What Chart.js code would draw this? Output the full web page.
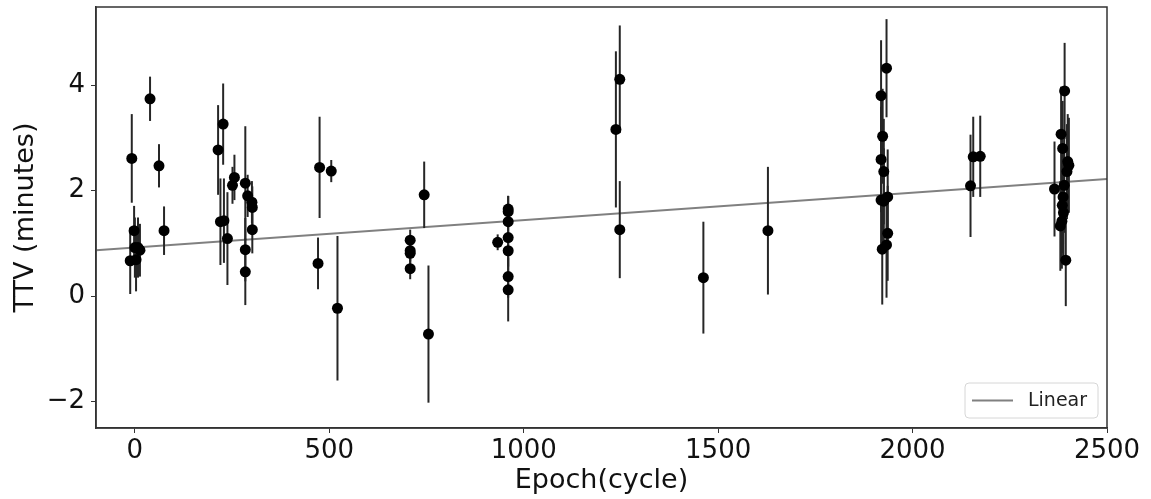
<!DOCTYPE html>
<html>
<head>
<meta charset="utf-8">
<title>TTV vs Epoch</title>
<script src="https://cdn.jsdelivr.net/npm/chart.js@4.4.0/dist/chart.umd.min.js"></script>
<style>
  html, body { margin: 0; padding: 0; background: #fff; }
  #wrap { width: 1151px; height: 499px; position: relative; }
</style>
</head>
<body>
<div id="wrap"><canvas id="ttvChart"></canvas></div>
<script>
// transit timing data
const EPOCH = [
  -12, -8, -2, 0, 3, 8, 13, 39, 62, 75,
  214, 220, 227, 229, 238, 251, 256, 284, 284, 284, 290, 301, 302, 302,
  471, 475, 505, 521,
  708, 708, 708, 708, 744, 755,
  933, 960, 960, 960, 960, 960, 960, 960,
  1237, 1247, 1247, 1462, 1628,
  1919, 1933, 1923, 1919, 1926, 1919, 1936, 1926, 1936, 1933, 1922,
  2149, 2156, 2174,
  2365, 2391, 2382, 2386, 2399, 2402, 2397, 2390, 2387, 2385, 2388, 2384, 2380, 2394
];
const TTV = [
  0.67, 2.61, 1.24, 0.92, 0.69, 0.92, 0.87, 3.74, 2.47, 1.24,
  2.77, 1.41, 3.26, 1.43, 1.09, 2.10, 2.25, 2.14, 0.88, 0.46, 1.90, 1.78, 1.68, 1.26,
  0.62, 2.44, 2.37, -0.23,
  1.06, 0.86, 0.81, 0.52, 1.92, -0.72,
  1.02, 1.65, 1.60, 1.41, 1.11, 0.86, 0.37, 0.12,
  3.16, 4.11, 1.26, 0.35, 1.24,
  3.80, 4.32, 3.03, 2.59, 2.36, 1.82, 1.88, 1.80, 1.19, 0.97, 0.89,
  2.09, 2.64, 2.65,
  2.03, 3.89, 3.07, 2.80, 2.55, 2.48, 2.36, 2.10, 1.88, 1.72, 1.58, 1.42, 1.33, 0.68
];
const TTV_ERR = [
  0.63, 0.84, 0.47, 0.57, 0.60, 0.57, 0.50, 0.42, 0.41, 0.46,
  0.85, 0.82, 0.77, 0.80, 0.88, 0.35, 0.43, 1.08, 0.60, 0.63, 0.40, 0.40, 0.40, 0.45,
  0.49, 0.96, 0.21, 1.37,
  0.20, 0.20, 0.20, 0.20, 0.63, 1.30,
  0.15, 0.25, 0.30, 0.30, 0.30, 0.30, 0.40, 0.60,
  1.48, 1.02, 0.92, 1.06, 1.21,
  1.05, 0.93, 0.90, 1.00, 1.00, 1.00, 0.90, 1.00, 0.90, 1.00, 1.05,
  0.97, 0.76, 0.77,
  0.90, 0.91, 0.90, 0.90, 0.90, 0.90, 0.90, 0.90, 0.90, 0.90, 0.90, 0.90, 0.85, 0.87
];

// linear ephemeris fit
const FIT_EPOCH = [-100, 2500];
const FIT_TTV = [0.87, 2.22];

const X_TICKS = [0, 500, 1000, 1500, 2000, 2500];
const Y_TICKS = [-2, 0, 2, 4];

const FONT = "'DejaVu Sans', 'Liberation Sans', sans-serif";
const FRAME = '#333333';

// vertical error bars, drawn under the markers
const errorBarPlugin = {
  id: 'errorBars',
  beforeDatasetDraw(chart, args) {
    if (args.index !== 1) return;
    const xs = chart.scales.x;
    const ys = chart.scales.y;
    const ctx = chart.ctx;
    ctx.save();
    ctx.strokeStyle = '#262626';
    ctx.lineWidth = 2;
    EPOCH.forEach((e, i) => {
      const px = xs.getPixelForValue(e);
      ctx.beginPath();
      ctx.moveTo(px, ys.getPixelForValue(TTV[i] - TTV_ERR[i]));
      ctx.lineTo(px, ys.getPixelForValue(TTV[i] + TTV_ERR[i]));
      ctx.stroke();
    });
    ctx.restore();
  }
};

// full box around the plot + matplotlib style legend in the lower right
const framePlugin = {
  id: 'frameAndLegend',
  afterDraw(chart) {
    const { ctx, chartArea } = chart;
    ctx.save();
    ctx.strokeStyle = FRAME;
    ctx.lineWidth = 1.5;
    ctx.strokeRect(chartArea.left, chartArea.top,
      chartArea.right - chartArea.left, chartArea.bottom - chartArea.top);

    const ds = chart.data.datasets[0];
    const bx = chartArea.right - 142;
    const by = chartArea.bottom - 45;
    const bw = 133;
    const bh = 35;
    ctx.beginPath();
    ctx.roundRect(bx, by, bw, bh, 4);
    ctx.fillStyle = 'rgba(255,255,255,0.85)';
    ctx.fill();
    ctx.strokeStyle = '#d6d6d6';
    ctx.lineWidth = 1;
    ctx.stroke();

    ctx.beginPath();
    ctx.moveTo(bx + 7, by + bh / 2);
    ctx.lineTo(bx + 48, by + bh / 2);
    ctx.strokeStyle = ds.borderColor;
    ctx.lineWidth = 2;
    ctx.stroke();

    ctx.fillStyle = '#222';
    ctx.font = '19px ' + FONT;
    ctx.textBaseline = 'middle';
    ctx.textAlign = 'left';
    ctx.fillText(ds.label, bx + 63, by + bh / 2 + 1);
    ctx.restore();
  }
};

function fixedTicks(values) {
  return scale => { scale.ticks = values.map(v => ({ value: v })); };
}

const plainNumber = v => (v < 0 ? '\u2212' + Math.abs(v) : String(v));

const ctx = document.getElementById('ttvChart').getContext('2d');
const ttvChart = new Chart(ctx, {
  type: 'scatter',
  data: {
    datasets: [
      {
        label: 'Linear',
        data: FIT_EPOCH.map((x, i) => ({ x: x, y: FIT_TTV[i] })),
        showLine: true,
        borderColor: '#808080',
        borderWidth: 2,
        pointRadius: 0,
        order: 2
      },
      {
        label: 'TTV',
        data: EPOCH.map((x, i) => ({ x: x, y: TTV[i] })),
        backgroundColor: '#000000',
        borderColor: '#000000',
        pointRadius: 5.5,
        pointBorderWidth: 0,
        order: 1
      }
    ]
  },
  options: {
    responsive: true,
    maintainAspectRatio: false,
    animation: false,
    devicePixelRatio: 1,
    layout: { padding: { top: 7, right: 44, left: 0, bottom: 0 } },
    plugins: {
      legend: { display: false },
      tooltip: { enabled: false }
    },
    scales: {
      x: {
        type: 'linear',
        min: -100,
        max: 2500,
        afterBuildTicks: fixedTicks(X_TICKS),
        afterFit: scale => {
          scale.height = 71;
          scale.paddingLeft = 0;
          scale.paddingRight = 0;
        },
        grid: { drawOnChartArea: false, drawTicks: true, tickLength: 5, color: FRAME },
        border: { color: FRAME, width: 1.5 },
        ticks: {
          color: '#111',
          padding: 3,
          maxRotation: 0,
          font: { family: FONT, size: 26 },
          callback: plainNumber
        },
        title: {
          display: true,
          text: 'Epoch(cycle)',
          color: '#111',
          padding: { top: 0, bottom: 2 },
          font: { family: FONT, size: 27 }
        }
      },
      y: {
        type: 'linear',
        min: -2.5,
        max: 5.48,
        afterBuildTicks: fixedTicks(Y_TICKS),
        afterFit: scale => {
          scale.width = 96;
          scale.paddingTop = 0;
          scale.paddingBottom = 0;
        },
        grid: { drawOnChartArea: false, drawTicks: true, tickLength: 5, color: FRAME },
        border: { color: FRAME, width: 1.5 },
        ticks: {
          color: '#111',
          padding: 6,
          font: { family: FONT, size: 26 },
          callback: plainNumber
        },
        title: {
          display: true,
          text: 'TTV (minutes)',
          color: '#111',
          padding: { top: 10, bottom: 0 },
          font: { family: FONT, size: 27 }
        }
      }
    }
  },
  plugins: [errorBarPlugin, framePlugin]
});
</script>
</body>
</html>
